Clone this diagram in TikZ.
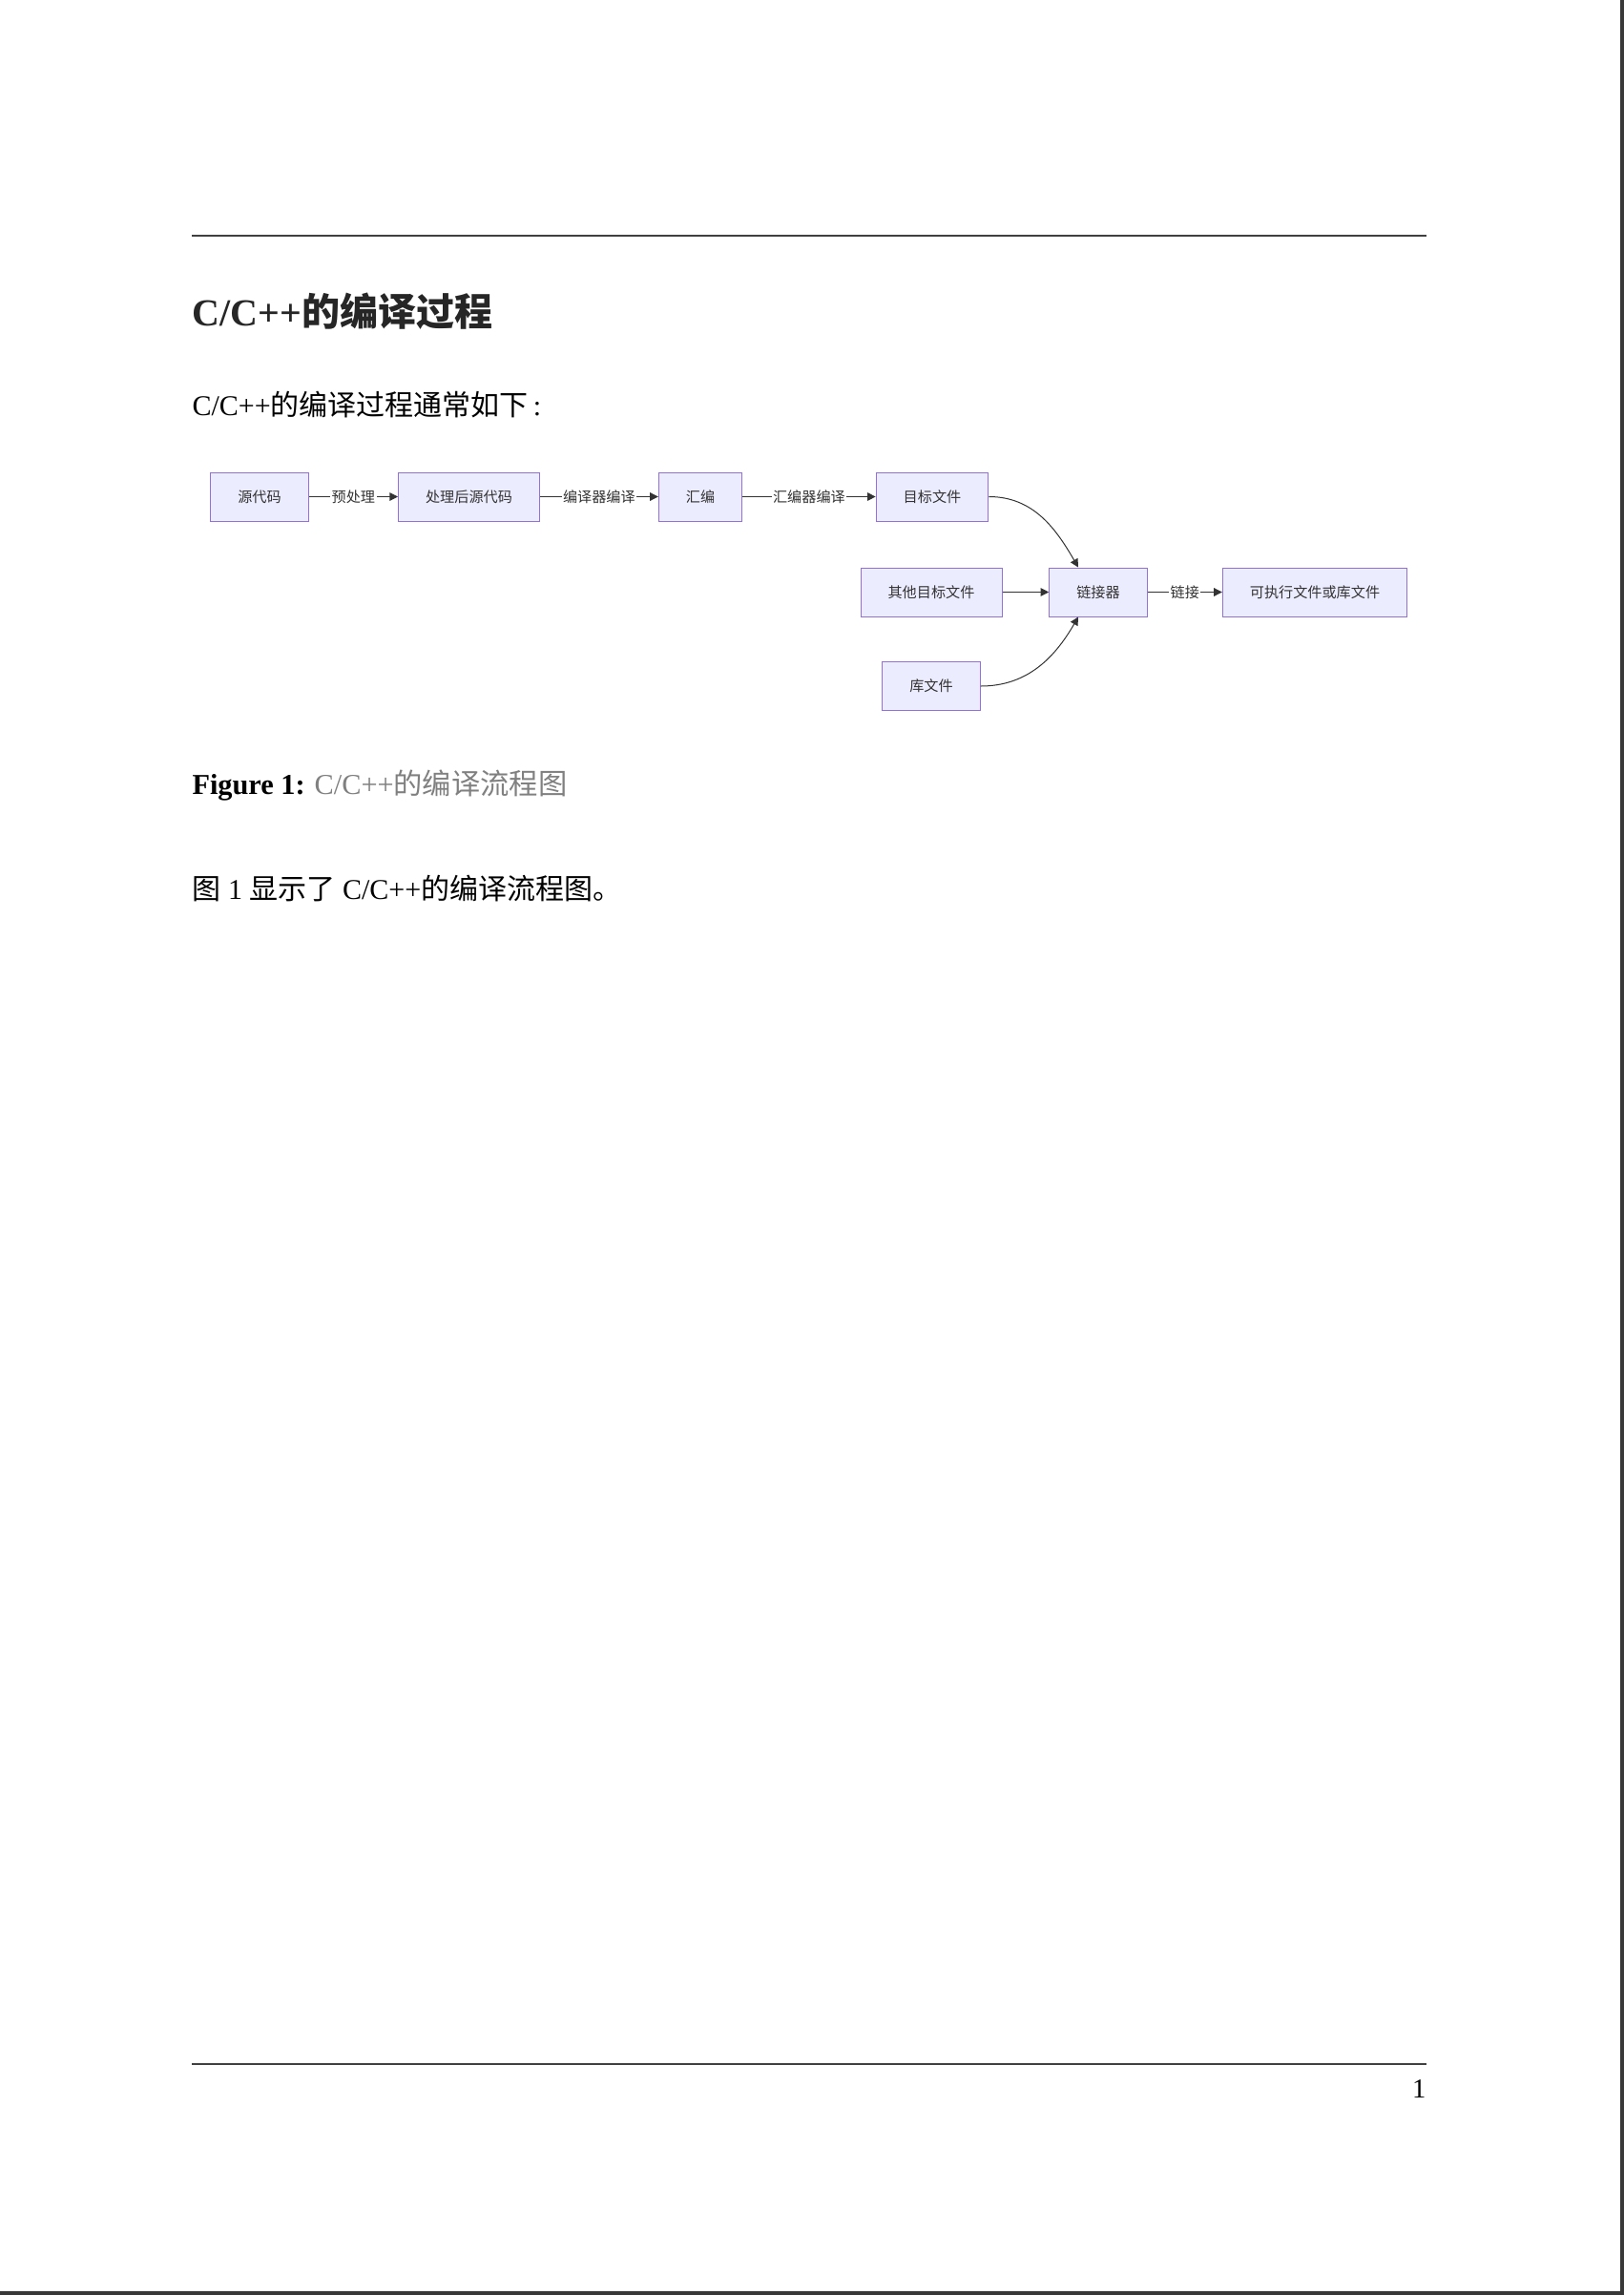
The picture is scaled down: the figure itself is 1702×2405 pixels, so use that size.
\documentclass[tikz,border=0pt]{standalone}
\usepackage{fontspec}
\usepackage{tikz}
\usetikzlibrary{arrows.meta}
\setmainfont{Liberation Serif}
\newfontfamily\cjk{Noto Sans CJK SC}
\definecolor{stagefill}{HTML}{ECECFF}
\definecolor{stageline}{HTML}{9370DB}
\definecolor{linkgray}{HTML}{333333}

\begin{document}
\begin{tikzpicture}[x=0.35pt, y=-0.35pt,
  stage/.style={draw=stageline, fill=stagefill, line width=0.35pt, minimum height=17.85pt, inner xsep=10pt, inner ysep=0pt, text=linkgray, font=\fontsize{5.3}{6}\cjk},
  edgelab/.style={fill=white, inner xsep=0.5pt, inner ysep=1pt, text=linkgray, font=\fontsize{5.3}{6}\cjk},
  flow/.style={draw=linkgray, line width=0.35pt, -{Triangle[length=3pt, width=3pt]}},
  txt/.style={anchor=base west, inner sep=0pt}]
  \useasboundingbox (0,0) rectangle (1702,2405);
  \fill[white] (0,0) rectangle (1702,2405);
  \fill[black!78] (1698,0) rectangle (1702,2405);
  \fill[black!78] (0,2401) rectangle (1702,2405);
  \draw[line width=0.5pt, black!75] (201,247) -- (1495,247);
  \draw[line width=0.5pt, black!75] (201,2163) -- (1495,2163);

  \node[txt, text=black!85] (title) at (201,341) {\fontsize{14}{16}\selectfont\bfseries C/C++{\cjk\bfseries 的编译过程}};
  \node[txt] (intro) at (201,435) {\fontsize{10.5}{12}\selectfont C/C++{\cjk 的编译过程通常如下}\,:};

  \node (src) [stage] at (272,520.5) {源代码};
  \node (pre) [stage] at (491.5,520.5) {处理后源代码};
  \node (asm) [stage] at (734,520.5) {汇编};
  \node (obj) [stage] at (977,520.5) {目标文件};
  \node (other) [stage] at (976,620.5) {其他目标文件};
  \node (link) [stage] at (1151,620.5) {链接器};
  \node (exe) [stage] at (1378,620.5) {可执行文件或库文件};
  \node (lib) [stage] at (976,719) {库文件};

  \draw[flow] (src) -- node[edgelab] {预处理} (pre);
  \draw[flow] (pre) -- node[edgelab] {编译器编译} (asm);
  \draw[flow] (asm) -- node[edgelab] {汇编器编译} (obj);
  \draw[flow] (obj.east) to[out=0, in=120] ([xshift=-7.35pt]link.north);
  \draw[flow] (other) -- (link);
  \draw[flow] (lib.east) to[out=0, in=-120] ([xshift=-7.35pt]link.south);
  \draw[flow] (link) -- node[edgelab] {链接} (exe);

  \node[txt] (cap) at (201,832) {\fontsize{10.6}{12}\selectfont\textbf{Figure 1:} \textcolor{gray}{C/C++{\cjk 的编译流程图}}};
  \node[txt] (ref) at (201,942) {\fontsize{10.5}{12}\selectfont{\cjk 图} 1 {\cjk 显示了} C/C++{\cjk 的编译流程图。}};
  \node[anchor=base east, inner sep=0pt] (page) at (1495,2198) {\fontsize{10}{12}\selectfont 1};
\end{tikzpicture}
\end{document}
